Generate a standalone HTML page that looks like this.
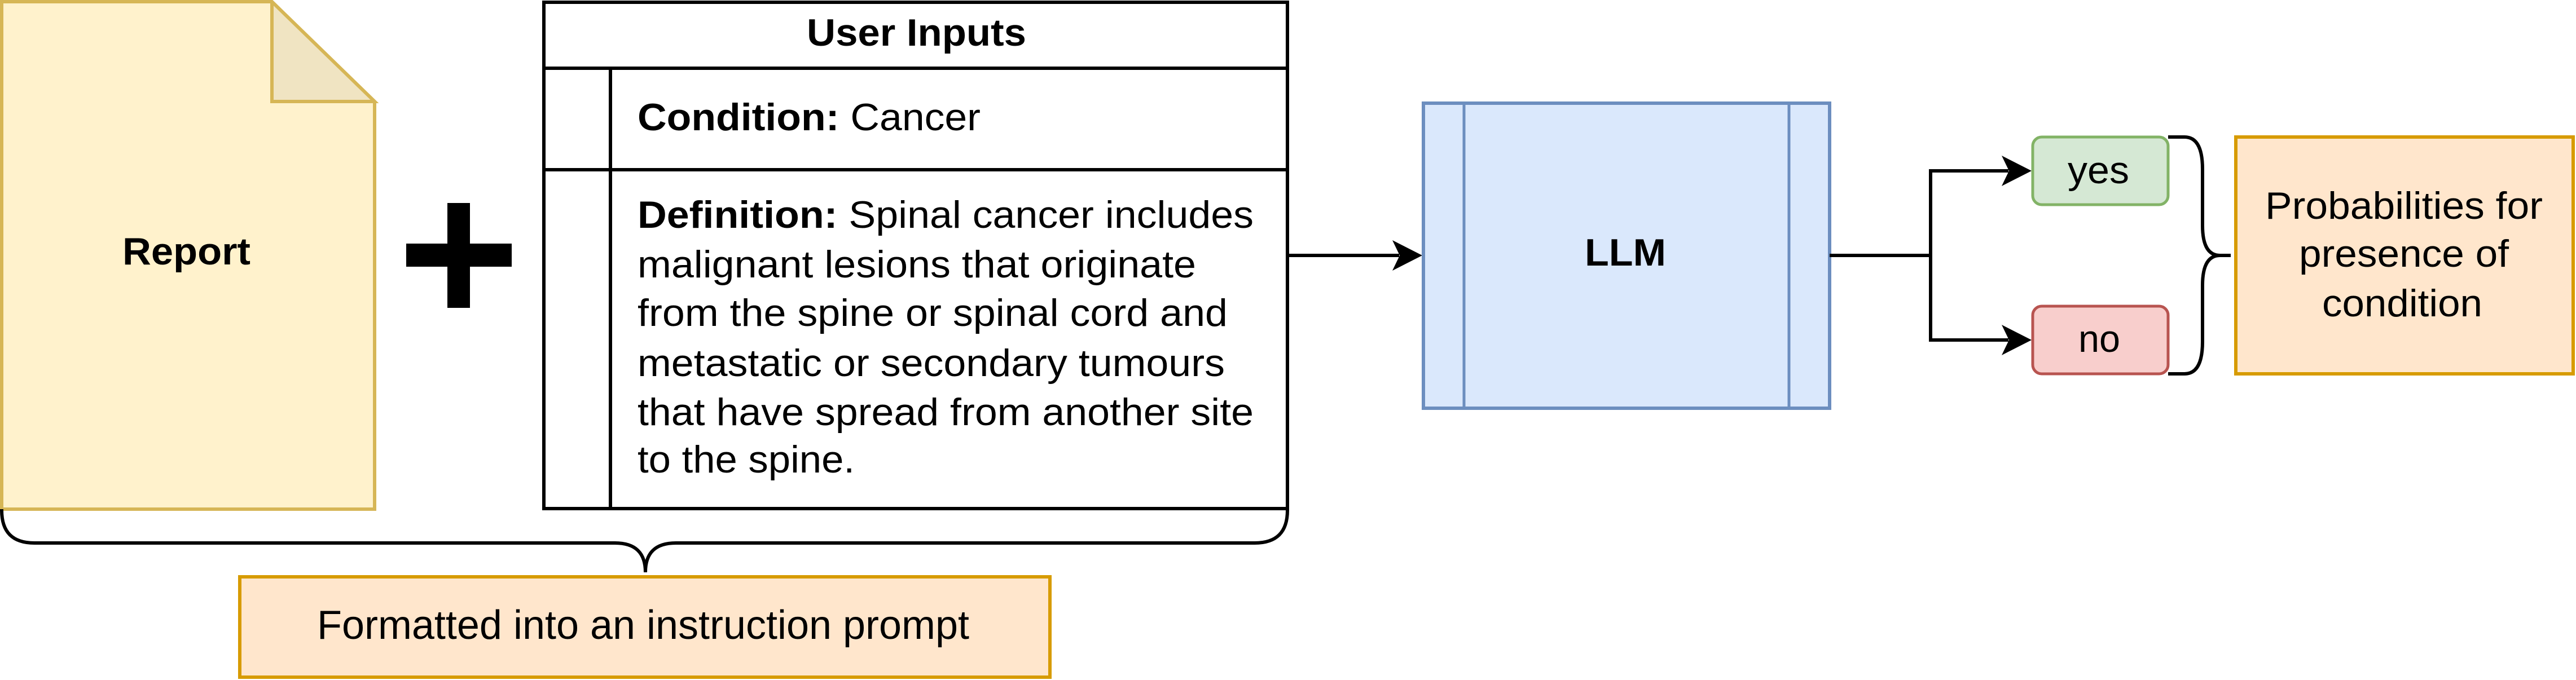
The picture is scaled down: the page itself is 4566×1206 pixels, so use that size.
<!DOCTYPE html>
<html><head><meta charset="utf-8"><style>html,body{margin:0;padding:0;background:#fff}svg{display:block}svg text{font-family:"Liberation Sans",Arial,sans-serif;}</style></head>
<body>
<svg width="4566" height="1206" viewBox="0 0 4566 1206" xmlns="http://www.w3.org/2000/svg" font-size="68">
<path d="M3 3 H482 L664 180 V903 H3 Z" fill="#fff2cc" stroke="#d6b656" stroke-width="6"/>
<path d="M482 3 V180 H664 Z" fill="#f0e4c2" stroke="#d6b656" stroke-width="6" stroke-linejoin="miter"/>
<text x="217" y="469" font-weight="bold" textLength="227" lengthAdjust="spacingAndGlyphs">Report</text>
<rect x="793" y="360" width="40" height="186" fill="#000"/>
<rect x="720" y="432" width="187" height="41" fill="#000"/>
<rect x="964" y="4" width="1318" height="898" fill="#fff" stroke="#000" stroke-width="6"/>
<line x1="964" y1="121" x2="2282" y2="121" stroke="#000" stroke-width="6"/>
<line x1="964" y1="301" x2="2282" y2="301" stroke="#000" stroke-width="6"/>
<line x1="1082" y1="121" x2="1082" y2="902" stroke="#000" stroke-width="6"/>
<text x="1430" y="81" font-weight="bold" textLength="389" lengthAdjust="spacingAndGlyphs">User Inputs</text>
<text x="1130" y="231" textLength="608" lengthAdjust="spacingAndGlyphs"><tspan font-weight="bold">Condition:</tspan> Cancer</text>
<text x="1130" y="404" textLength="1092" lengthAdjust="spacingAndGlyphs"><tspan font-weight="bold">Definition:</tspan> Spinal cancer includes</text>
<text x="1130" y="492" textLength="990" lengthAdjust="spacingAndGlyphs">malignant lesions that originate</text>
<text x="1130" y="578" textLength="1046" lengthAdjust="spacingAndGlyphs">from the spine or spinal cord and</text>
<text x="1130" y="667" textLength="1041" lengthAdjust="spacingAndGlyphs">metastatic or secondary tumours</text>
<text x="1130" y="754" textLength="1092" lengthAdjust="spacingAndGlyphs">that have spread from another site</text>
<text x="1130" y="838" textLength="385" lengthAdjust="spacingAndGlyphs">to the spine.</text>
<path d="M3 903 V905 Q3 963 61 963 H1090 Q1144 963 1144 1015 Q1144 963 1198 963 H2224 Q2282 963 2282 905 V903" fill="none" stroke="#000" stroke-width="6"/>
<rect x="425" y="1023" width="1436" height="178" fill="#ffe6cc" stroke="#d79b00" stroke-width="6"/>
<text x="562" y="1133" textLength="1156" lengthAdjust="spacingAndGlyphs" font-size="72">Formatted into an instruction prompt</text>
<line x1="2282" y1="453" x2="2480" y2="453" stroke="#000" stroke-width="6"/>
<path d="M2521 453 L2468 426 L2481 453 L2468 480 Z" fill="#000"/>
<rect x="2523" y="183" width="720" height="541" fill="#dae8fc" stroke="#6c8ebf" stroke-width="6"/>
<line x1="2595" y1="183" x2="2595" y2="724" stroke="#6c8ebf" stroke-width="5"/>
<line x1="3171" y1="183" x2="3171" y2="724" stroke="#6c8ebf" stroke-width="5"/>
<text x="2809" y="471" font-weight="bold" textLength="144" lengthAdjust="spacingAndGlyphs">LLM</text>
<path d="M3243 453 H3422 V303 H3560 M3422 453 V603 H3560" fill="none" stroke="#000" stroke-width="6"/>
<path d="M3601 303 L3548 276 L3561 303 L3548 330 Z" fill="#000"/>
<path d="M3601 603 L3548 576 L3561 603 L3548 630 Z" fill="#000"/>
<rect x="3603" y="243" width="240" height="120" rx="16" fill="#d5e8d4" stroke="#82b366" stroke-width="5"/>
<text x="3665" y="325" textLength="109" lengthAdjust="spacingAndGlyphs">yes</text>
<rect x="3603" y="543" width="240" height="120" rx="16" fill="#f8cecc" stroke="#b85450" stroke-width="5"/>
<text x="3684" y="624" textLength="74" lengthAdjust="spacingAndGlyphs">no</text>
<path d="M3843 243 H3872 Q3904 243 3904 300 V400 Q3904 453 3935 453 H3954 M3935 453 Q3904 453 3904 506 V606 Q3904 663 3872 663 H3843" fill="none" stroke="#000" stroke-width="6"/>
<rect x="3963" y="243" width="598" height="420" fill="#ffe6cc" stroke="#d79b00" stroke-width="6"/>
<text x="4015" y="388" textLength="492" lengthAdjust="spacingAndGlyphs">Probabilities for</text>
<text x="4075" y="473" textLength="372" lengthAdjust="spacingAndGlyphs">presence of</text>
<text x="4116" y="561" textLength="284" lengthAdjust="spacingAndGlyphs">condition</text>
</svg>
</body></html>
